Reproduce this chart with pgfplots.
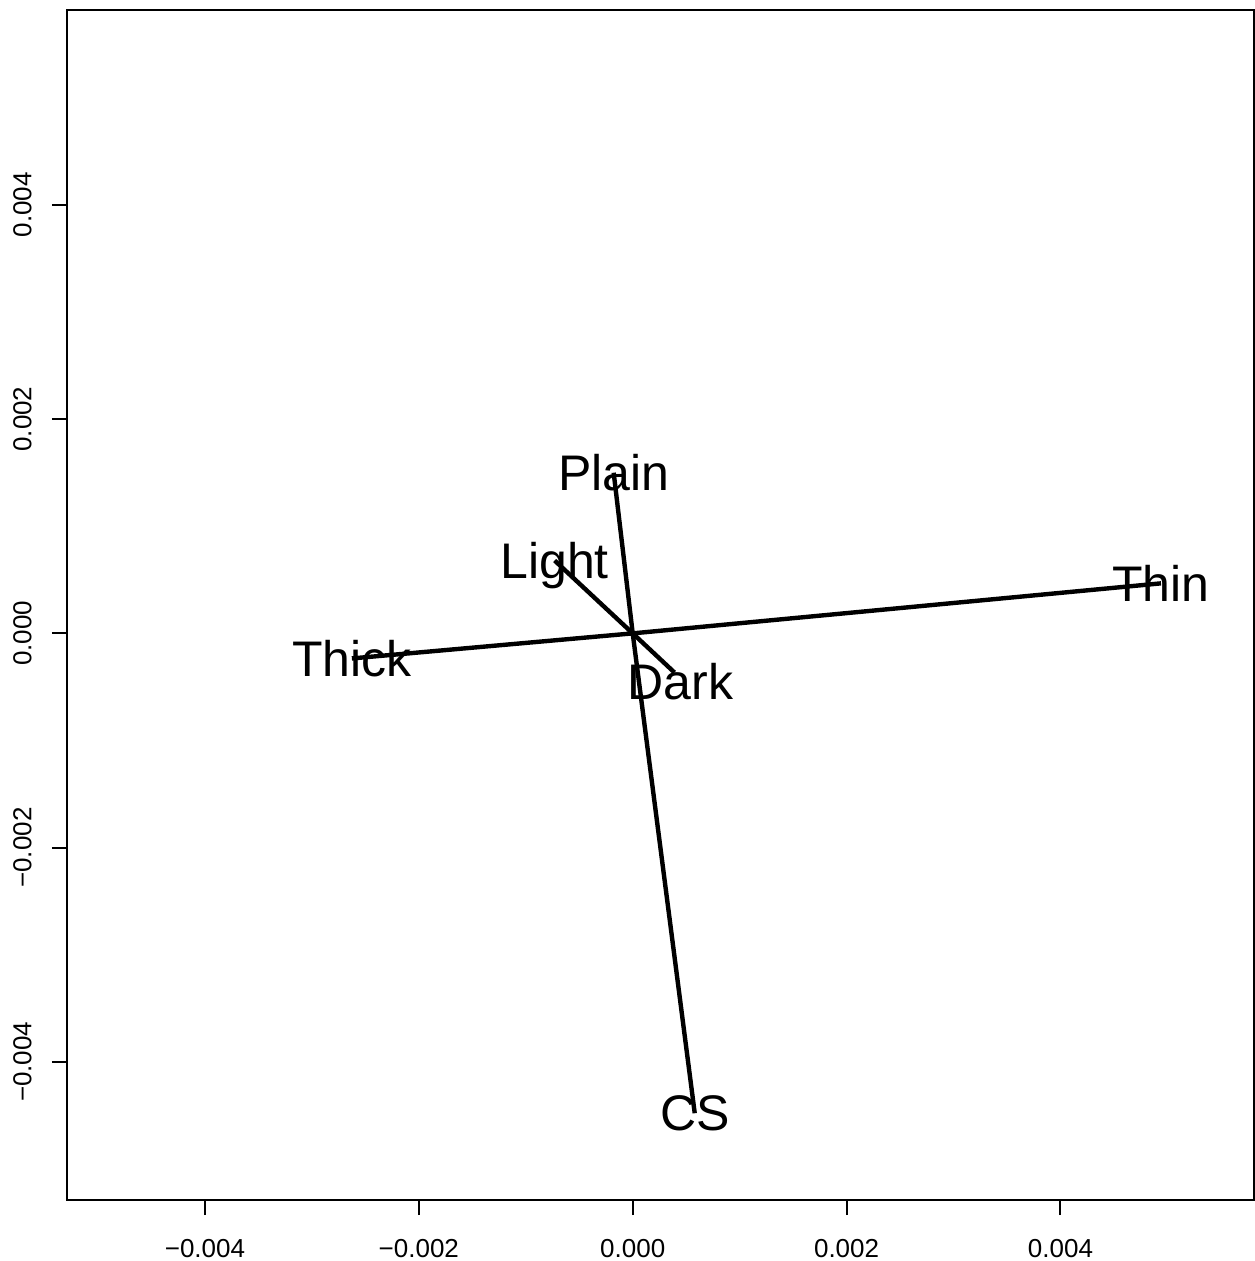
\documentclass[border=0pt]{standalone}
\usepackage{pgfplots}
\pgfplotsset{compat=1.18}
\usepackage{fontspec}
\setmainfont{Liberation Sans}

\tikzset{vlabel/.style={font=\fontsize{25bp}{28bp}\selectfont, anchor=center, text depth=0pt, inner sep=0pt}}

\begin{document}
\begin{tikzpicture}
\useasboundingbox (0,0) rectangle (627.5bp,630.5bp);
\begin{axis}[
  at={(33.5bp,30.5bp)}, anchor=south west,
  scale only axis, width=593.5bp, height=595bp,
  xmin=-0.00529, xmax=0.00581,
  ymin=-0.00529, ymax=0.00582,
  axis line style={line width=1bp},
  xtick={-0.004,-0.002,0,0.002,0.004},
  ytick={-0.004,-0.002,0,0.002,0.004},
  xticklabels={−0.004,−0.002,0.000,0.002,0.004},
  yticklabels={−0.004,−0.002,0.000,0.002,0.004},
  tick align=outside, major tick length=7.5bp,
  tick style={line width=1bp, black},
  xtick pos=bottom, ytick pos=left,
  ticklabel style={font=\fontsize{13bp}{15bp}\selectfont, inner sep=0pt},
  xticklabel style={anchor=north},
  yticklabel style={rotate=90, anchor=south},
  xticklabel shift=12bp,
  yticklabel shift=10bp,
  scaled ticks=false,
  clip=false,
]
% loading vectors from the origin
\addplot[black, line width=2.2bp, no marks] coordinates {(0,0) (0.00494,0.000467)} node[vlabel, pos=1] {Thin};
\addplot[black, line width=2.2bp, no marks] coordinates {(0,0) (-0.002626,-0.000234)} node[vlabel, pos=1] {Thick};
\addplot[black, line width=2.2bp, no marks] coordinates {(0,0) (-0.000178,0.0015)} node[vlabel, pos=1] {Plain};
\addplot[black, line width=2.2bp, no marks] coordinates {(0,0) (-0.00073,0.00068)} node[vlabel, pos=1] {Light};
\addplot[black, line width=2.2bp, no marks] coordinates {(0,0) (0.00039,-0.000365)} node[vlabel, pos=1, xshift=3bp, yshift=-4.5bp] {Dark};
\addplot[black, line width=2.2bp, no marks] coordinates {(0,0) (0.00058,-0.00448)} node[vlabel, pos=1] {CS};
\end{axis}
\end{tikzpicture}
\end{document}
